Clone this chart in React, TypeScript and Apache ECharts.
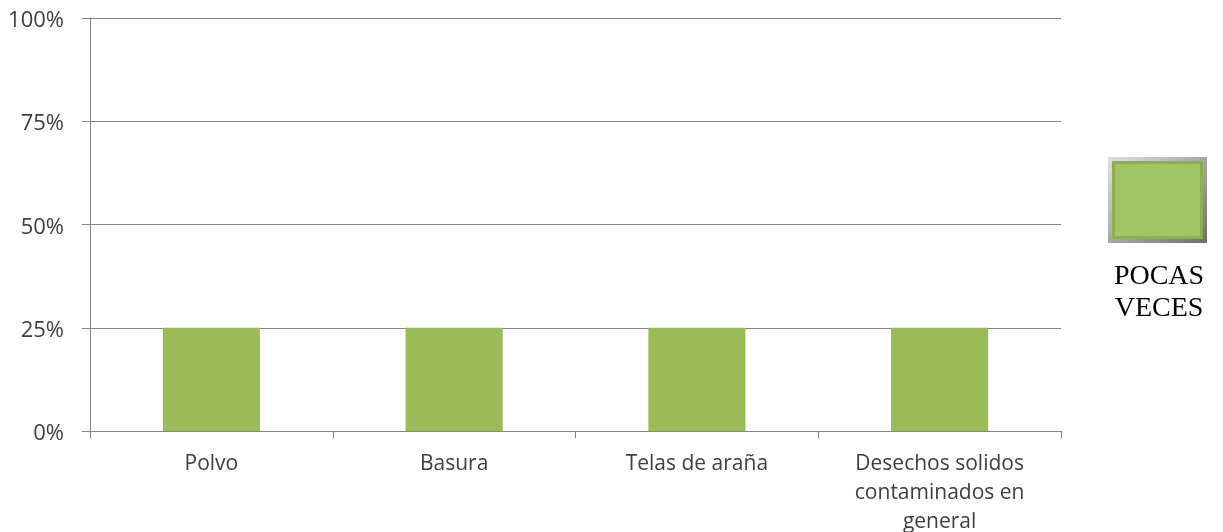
import React, { useEffect, useRef } from "react";
import * as echarts from "echarts";

const categories = ["Polvo", "Basura", "Telas de araña", "Desechos solidos\ncontaminados en\ngeneral"];
const seriesName = "POCAS\nVECES";
const values = [0.25, 0.25, 0.25, 0.25];
const yTicks = [0, 0.25, 0.5, 0.75, 1];

export default function App() {
  const ref = useRef<HTMLDivElement>(null);
  useEffect(() => {
    const chart = echarts.init(ref.current!, null, { renderer: "svg" });
    const labelFont = "'Open Sans', 'Noto Sans', sans-serif";
    chart.setOption({
      animation: false,
      grid: { left: 90, right: 162, top: 18, bottom: 101, containLabel: false, outerBoundsMode: "none" },
      xAxis: {
        type: "category",
        data: categories,
        axisLine: { lineStyle: { color: "#868686", width: 1 } },
        axisTick: { show: true, length: 7, alignWithLabel: false, lineStyle: { color: "#868686" } },
        axisLabel: {
          color: "#404040",
          fontSize: 21,
          fontFamily: labelFont,
          margin: 17,
          lineHeight: 28.6,
          interval: 0,
        },
      },
      yAxis: {
        type: "value",
        min: yTicks[0],
        max: yTicks[yTicks.length - 1],
        interval: 0.25,
        axisLine: { show: true, lineStyle: { color: "#868686" } },
        axisTick: { show: true, length: 8, lineStyle: { color: "#868686" } },
        splitLine: { lineStyle: { color: "#868686", width: 1 } },
        axisLabel: {
          color: "#404040",
          fontSize: 22,
          fontFamily: labelFont,
          margin: 26,
          formatter: (v: number) => Math.round(v * 100) + "%",
        },
      },
      series: [
        {
          name: seriesName,
          type: "bar",
          data: values,
          barWidth: "40%",
          itemStyle: { color: "#9BBB59" },
        },
      ],
      graphic: [
        {
          type: "group",
          left: 1108,
          top: 157,
          children: [
            {
              type: "rect",
              shape: { x: 0, y: 0, width: 99, height: 86 },
              style: {
                fill: new echarts.graphic.LinearGradient(0, 0, 1, 1, [
                  { offset: 0, color: "#e0e0e0" },
                  { offset: 1, color: "#707070" },
                ]),
              },
            },
            {
              type: "rect",
              shape: { x: 4, y: 4, width: 91, height: 78 },
              style: { fill: "#8fae52" },
            },
            {
              type: "rect",
              shape: { x: 7, y: 7, width: 85, height: 72 },
              style: { fill: "#a2c462" },
            },
          ],
        },
        {
          type: "text",
          x: 1159,
          y: 258,
          style: {
            text: seriesName,
            fill: "#000000",
            font: "28px 'Liberation Serif', 'Times New Roman', serif",
            lineHeight: 32,
            align: "center",
            verticalAlign: "top",
          },
        },
      ],
    });
    return () => chart.dispose();
  }, []);
  return <div ref={ref} style={{ position: "fixed", left: 0, top: 0, width: 1223, height: 532 }} />;
}
